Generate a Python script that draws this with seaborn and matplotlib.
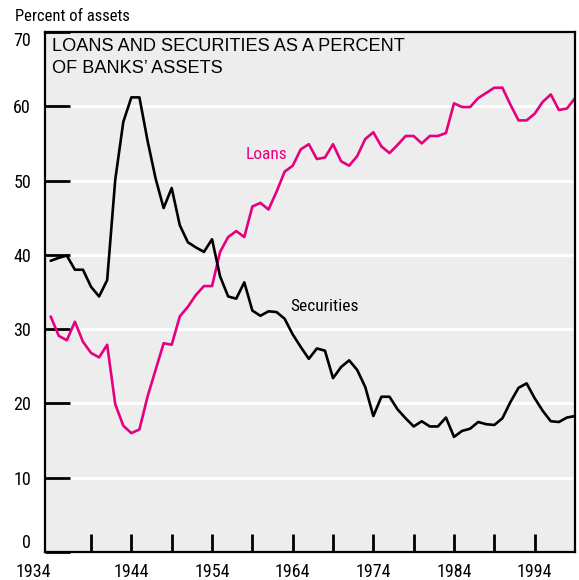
import matplotlib
matplotlib.use("Agg")
import matplotlib.pyplot as plt
from matplotlib import font_manager
import numpy as np
import pandas as pd
import seaborn as sns

# annual series, 1934-1999, percent of banks' assets
years = list(range(1934, 2000))
loans = [31.7, 29.1, 28.5, 31.0, 28.3, 26.8, 26.2, 27.9, 19.9, 17.0,
         16.0, 16.5, 20.9, 24.5, 28.1, 27.9, 31.7, 33.0, 34.6, 35.8,
         35.8, 40.4, 42.4, 43.2, 42.4, 46.5, 47.0, 46.1, 48.5, 51.2,
         52.0, 54.2, 54.9, 52.9, 53.1, 54.9, 52.6, 52.0, 53.3, 55.6,
         56.5, 54.6, 53.7, 54.8, 56.0, 56.0, 55.0, 56.0, 56.0, 56.4,
         60.4, 59.9, 59.9, 61.1, 61.8, 62.5, 62.5, 60.2, 58.1, 58.1,
         59.0, 60.6, 61.6, 59.5, 59.7, 61.1]
securities = [39.2, 39.6, 39.9, 38.0, 38.0, 35.7, 34.4, 36.6, 50.1, 57.9,
              61.2, 61.2, 55.4, 50.3, 46.3, 49.0, 44.0, 41.7, 41.0, 40.4,
              42.1, 37.1, 34.4, 34.1, 36.3, 32.5, 31.8, 32.4, 32.3, 31.4,
              29.3, 27.6, 26.0, 27.4, 27.1, 23.4, 24.9, 25.8, 24.5, 22.2,
              18.3, 20.9, 20.9, 19.2, 18.0, 16.9, 17.6, 16.9, 16.9, 18.1,
              15.5, 16.3, 16.6, 17.5, 17.2, 17.1, 18.0, 20.2, 22.1, 22.7,
              20.7, 19.0, 17.6, 17.5, 18.1, 18.3]
label_years = [1934, 1944, 1954, 1964, 1974, 1984, 1994]
mark_years = list(range(1939, 1995, 5))
y_ticks = [0, 10, 20, 30, 40, 50, 60, 70]

MAGENTA = "#e6007e"
BG = "#ededed"

df = pd.DataFrame({"year": years, "Loans": loans, "Securities": securities})

sns.set_style("white", {"axes.facecolor": BG})

# look for a condensed face, fall back to the narrowest plain one
fonts = font_manager.fontManager.ttflist
names = {f.name for f in fonts}
stretch = "normal"
narrow_size = 13
if "Roboto Condensed" in names:
    narrow = "Roboto Condensed"
elif "Liberation Sans Narrow" in names:
    narrow = "Liberation Sans Narrow"
elif any(f.name == "DejaVu Sans" and f.stretch in ("condensed", "semi-condensed")
         for f in fonts):
    narrow = "DejaVu Sans"
    stretch = "condensed"
    narrow_size = 12.5
else:
    narrow = "Roboto"
    narrow_size = 12

plt.rcParams["font.family"] = [narrow, "DejaVu Sans"]
plt.rcParams["font.stretch"] = stretch
plt.rcParams["text.color"] = "black"
plt.rcParams["xtick.color"] = "black"
plt.rcParams["ytick.color"] = "black"

fig = plt.figure(figsize=(5.79, 5.80), dpi=100)
ax = fig.add_axes([45 / 579, 28 / 580, 530 / 579, 520 / 580])

sns.lineplot(data=df, x="year", y="Loans", color=MAGENTA, lw=1.9, ax=ax, zorder=3)
sns.lineplot(data=df, x="year", y="Securities", color="black", lw=1.9, ax=ax, zorder=3)

ax.set_xlim(1933.293, 1999.0)
ax.set_ylim(0, 70)

# white horizontal grid, kept under the tick marks
ax.set_axisbelow(False)
for v in y_ticks[1:-1]:
    ax.axhline(v, color="white", lw=2, zorder=0.3)

ax.set_yticks(y_ticks)
ax.set_yticklabels([str(v) for v in y_ticks])
ax.tick_params(axis="y", left=True, direction="in", length=18, width=2, pad=10,
               labelsize=narrow_size, color="black", labelcolor="black")
ylabs = ax.get_yticklabels()
ylabs[0].set_va("bottom")
ylabs[-1].set_va("top")

# year labels every 10 years; inward marks every 5 years along the bottom
ax.set_xticks(label_years)
ax.set_xticklabels([str(y) for y in label_years])
ax.tick_params(axis="x", bottom=True, length=0, pad=8, labelsize=narrow_size,
               labelcolor="black")
ax.get_xticklabels()[0].set_ha("right")
ax.vlines(mark_years, 0, 18 / 520, transform=ax.get_xaxis_transform(),
          color="black", lw=2, zorder=3.5)

ax.set_xlabel("")
ax.set_ylabel("")
for s in ax.spines.values():
    s.set_visible(True)
    s.set_color("black")
    s.set_linewidth(1.6)
    s.set_zorder(4)

ax.text(0.013, 0.988, "LOANS AND SECURITIES AS A PERCENT\nOF BANKS\u2019 ASSETS",
        transform=ax.transAxes, ha="left", va="top", fontsize=13.1,
        linespacing=1.36, color="black", family=["Liberation Sans", "DejaVu Sans"],
        fontstretch="normal")

ax.text(1958.18, 52.85, "Loans", color=MAGENTA, fontsize=narrow_size - 0.5,
        ha="left", va="baseline")
ax.text(1963.75, 32.44, "Securities", color="black", fontsize=narrow_size - 0.5,
        ha="left", va="baseline")

fig.text(15 / 579, 1 - 20.7 / 580, "Percent of assets", fontsize=narrow_size - 1,
         ha="left", va="baseline", color="black")

fig.savefig("out.png", dpi=100)
